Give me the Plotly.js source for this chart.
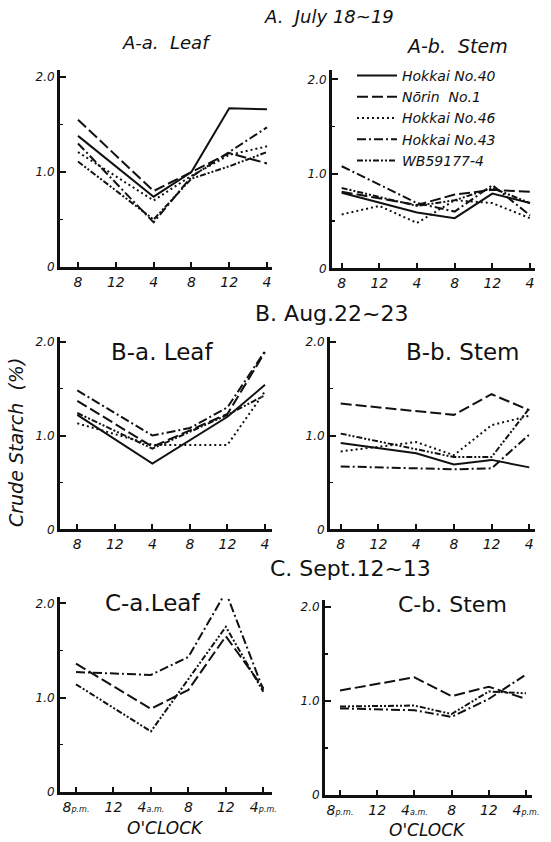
<!DOCTYPE html>
<html>
<head>
<meta charset="utf-8">
<script src="https://cdn.plot.ly/plotly-3.0.1.min.js"></script>
<style>html,body{margin:0;padding:0;background:#fff;}#chart{width:551px;height:842px;}</style>
</head>
<body>
<div id="chart"></div>
<script>
// ---- data ----
const timeIdx = [0, 1, 2, 3, 4, 5];
const timeLabels = ['8', '12', '4', '8', '12', '4'];
const timeLabelsC = ['8<span style="font-size:8px">p.m.</span>', '12', '4<span style="font-size:8px">a.m.</span>', '8', '12', '4<span style="font-size:8px">p.m.</span>'];
const varieties = ['Hokkai No.40', 'Nōrin  No.1', 'Hokkai No.46', 'Hokkai No.43', 'WB59177-4'];

// A. July 18~19, leaf
const aLeafH40 = [1.38, null, 0.74, 1.00, 1.67, 1.66];
const aLeafNorin = [1.55, null, 0.80, 1.00, 1.20, 1.09];
const aLeafH46 = [1.21, null, 0.70, 0.96, 1.18, 1.27];
const aLeafH43 = [1.30, null, 0.47, 0.95, 1.21, 1.47];
const aLeafWB = [1.11, null, 0.50, 0.93, 1.06, 1.21];
// A. stem
const aStemH40 = [0.80, null, 0.59, 0.53, 0.79, 0.69];
const aStemNorin = [0.81, null, 0.67, 0.78, 0.83, 0.81];
const aStemH46 = [0.57, 0.66, 0.48, 0.72, 0.69, 0.53];
const aStemH43 = [1.08, null, 0.69, 0.60, 0.88, 0.56];
const aStemWB = [0.85, null, 0.66, 0.72, 0.85, 0.69];
// B. Aug.22~23, leaf
const bLeafH40 = [1.22, null, 0.70, null, 1.20, 1.54];
const bLeafNorin = [1.37, null, 0.88, null, 1.23, 1.89];
const bLeafH46 = [1.13, null, 0.90, 0.90, 0.90, 1.47];
const bLeafH43 = [1.48, null, 1.00, 1.08, 1.30, 1.90];
const bLeafWB = [1.24, null, 0.86, null, 1.22, 1.43];
// B. stem
const bStemH40 = [0.92, null, 0.81, 0.69, 0.74, 0.66];
const bStemNorin = [1.34, null, null, 1.22, 1.44, 1.27];
const bStemH46 = [0.83, null, 0.93, 0.79, 1.11, 1.21];
const bStemH43 = [0.67, null, null, 0.64, 0.65, 1.01];
const bStemWB = [1.02, null, 0.85, 0.77, 0.77, 1.29];
// C. Sept.12~13, leaf
const cLeafNorin = [1.36, null, 0.88, 1.08, 1.65, 1.10];
const cLeafH43 = [1.27, null, 1.24, 1.43, 2.12, 1.08];
const cLeafWB = [1.14, null, 0.64, null, 1.75, 1.06];
// C. stem
const cStemNorin = [1.11, null, 1.25, 1.05, 1.15, 1.02];
const cStemH43 = [0.92, null, 0.90, 0.83, 1.02, 1.28];
const cStemWB = [0.94, null, 0.95, 0.86, 1.10, 1.08];

// ---- styles ----
const W = 551, H = 842;
const dashes = ['solid', '11px,4px', '2px,3px', '9px,3px,2px,3px', '6px,2px,2px,2px,2px,2px'];
const FONT = 'DejaVu Sans, sans-serif';

const panels = [
  {ax: '', left: 60, right: 272, x0: 78, x5: 267, yTop: 70, y0: 267, y2: 77, labels: timeLabels,
   series: [aLeafH40, aLeafNorin, aLeafH46, aLeafH43, aLeafWB], vi: [0,1,2,3,4], legend: false},
  {ax: '2', left: 332, right: 535, x0: 341.7, x5: 530, yTop: 70, y0: 268.3, y2: 79.3, labels: timeLabels,
   series: [aStemH40, aStemNorin, aStemH46, aStemH43, aStemWB], vi: [0,1,2,3,4], legend: true},
  {ax: '3', left: 60, right: 272, x0: 77.3, x5: 265, yTop: 337, y0: 529.3, y2: 341.7, labels: timeLabels,
   series: [bLeafH40, bLeafNorin, bLeafH46, bLeafH43, bLeafWB], vi: [0,1,2,3,4], legend: false},
  {ax: '4', left: 330, right: 535, x0: 340.7, x5: 529.3, yTop: 337, y0: 529.3, y2: 341.7, labels: timeLabels,
   series: [bStemH40, bStemNorin, bStemH46, bStemH43, bStemWB], vi: [0,1,2,3,4], legend: false},
  {ax: '5', left: 60, right: 272, x0: 76, x5: 263.3, yTop: 597, y0: 791.7, y2: 603.3, labels: timeLabelsC,
   series: [cLeafNorin, cLeafH43, cLeafWB], vi: [1,3,4], legend: false},
  {ax: '6', left: 325, right: 532, x0: 340, x5: 526, yTop: 600, y0: 795, y2: 606.7, labels: timeLabelsC,
   series: [cStemNorin, cStemH43, cStemWB], vi: [1,3,4], legend: false}
];

const traces = [];
const layout = {
  width: W, height: H, margin: {l: 0, r: 0, t: 0, b: 0},
  paper_bgcolor: '#fff', plot_bgcolor: '#fff',
  font: {family: FONT, color: '#111', size: 12, style: 'italic'},
  showlegend: true,
  legend: {x: 352 / W, y: (H - 60) / H, xanchor: 'left', yanchor: 'top',
           font: {family: FONT, size: 14, style: 'italic', color: '#111'},
           bgcolor: 'rgba(0,0,0,0)', tracegroupgap: 0, itemwidth: 40},
  annotations: []
};

panels.forEach(p => {
  const sx = (p.x5 - p.x0) / 5;
  const sy = (p.y0 - p.y2) / 2;
  const xa = 'xaxis' + p.ax, ya = 'yaxis' + p.ax;
  layout[xa] = {
    domain: [p.left / W, p.right / W], range: [(p.left - p.x0) / sx, (p.right - p.x0) / sx],
    anchor: 'y' + p.ax, tickmode: 'array', tickvals: timeIdx, ticktext: p.labels,
    ticks: 'inside', ticklen: 5, tickwidth: 2, tickcolor: '#111',
    showline: true, linewidth: 3, linecolor: '#111', showgrid: false, zeroline: false,
    tickfont: {family: FONT, size: 14, style: 'italic', color: '#111'}, fixedrange: true
  };
  layout[ya] = {
    domain: [(H - p.y0) / H, (H - p.yTop) / H], range: [0, (p.y0 - p.yTop) / sy],
    anchor: 'x' + p.ax, tickmode: 'array', tickvals: [0, 1, 2], ticktext: ['0', '1.0', '2.0'],
    ticks: 'inside', ticklen: 6, tickwidth: 2, tickcolor: '#111',
    minor: {tickvals: [0.5, 1.5], ticks: 'inside', ticklen: 3, tickwidth: 1.5, tickcolor: '#111'},
    showline: true, linewidth: 3, linecolor: '#111', showgrid: false, zeroline: false,
    tickfont: {family: FONT, size: 12, style: 'italic', color: '#111'}, fixedrange: true
  };
  p.series.forEach((vals, k) => {
    const v = p.vi[k];
    traces.push({
      type: 'scatter', mode: 'lines', x: timeIdx, y: vals, connectgaps: true,
      xaxis: 'x' + p.ax, yaxis: 'y' + p.ax, name: varieties[v],
      showlegend: p.legend,
      line: {color: '#111', width: 2, dash: dashes[v]},
      hoverinfo: 'skip'
    });
  });
});

function ann(text, px, py, size, style) {
  return {
    text: text, x: px / W, y: (H - py) / H, xref: 'paper', yref: 'paper',
    xanchor: 'center', yanchor: 'middle', showarrow: false,
    font: {family: FONT, size: size, color: '#111', style: style || 'italic'}
  };
}
const ylab = ann('Crude Starch  (%)', 16, 443, 19);
ylab.textangle = -90;
layout.annotations.push(
  ann('A.  July 18~19', 329, 17, 18),
  ann('A-a.  Leaf', 166, 42, 18),
  ann('A-b.  Stem', 457, 46, 19),
  ann('B. Aug.22~23', 331, 313, 22, 'normal'),
  ann('B-a. Leaf', 162, 352, 23, 'normal'),
  ann('B-b. Stem', 462, 352, 23, 'normal'),
  ann('C. Sept.12~13', 350, 568, 22, 'normal'),
  ann('C-a.Leaf', 152, 603, 23, 'normal'),
  ann('C-b. Stem', 452, 604, 22, 'normal'),
  ylab,
  ann("O'CLOCK", 165, 828, 17),
  ann("O'CLOCK", 428, 830, 17)
);

Plotly.newPlot('chart', traces, layout, {displayModeBar: false, staticPlot: true});
</script>
</body>
</html>
